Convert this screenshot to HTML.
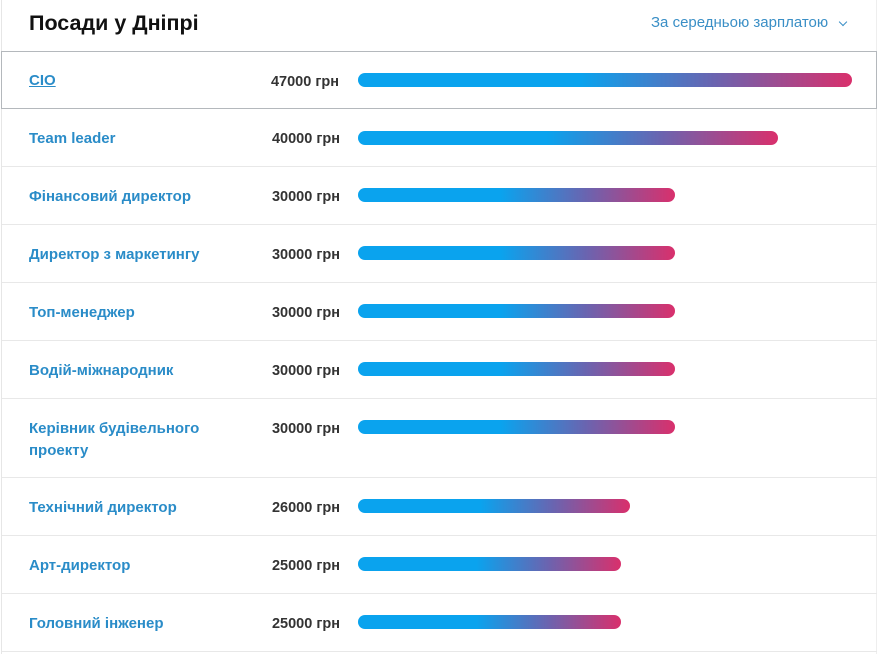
<!DOCTYPE html>
<html><head><meta charset="utf-8"><style>
*{margin:0;padding:0;box-sizing:border-box}
body{width:877px;height:654px;background:#fff;font-family:"Liberation Sans","Noto Sans CJK SC",sans-serif;position:relative;overflow:hidden}
.lb{position:absolute;left:1px;top:0;width:1px;height:654px;background:#e6e6e6}
.rb{position:absolute;right:0;top:0;width:1px;height:654px;background:#eee}
h1{position:absolute;left:29px;top:11px;font-size:21.5px;font-weight:bold;color:#111}
.sort{position:absolute;left:651px;top:14px;font-size:15px;color:#3a8fc6}
.sort:after{content:"";position:absolute;left:189px;top:5px;width:5px;height:5px;border-right:1.5px solid #3a8fc6;border-bottom:1.5px solid #3a8fc6;transform:rotate(45deg)}
.row{position:absolute;left:2px;width:875px;border-bottom:1px solid #e8e8e8}
.row.sel{border:1px solid #b4b8bc;left:1px;width:876px}
.n{position:absolute;left:27px;font-size:15px;font-weight:bold;color:#2a8cc8;line-height:22px}
.sel .n{text-decoration:underline}
.v{position:absolute;right:537px;font-size:14.5px;font-weight:bold;color:#333;white-space:nowrap}
.b{position:absolute;left:356px;height:14px;border-radius:7px;background:linear-gradient(90deg,#0aa3ee 0%,#0aa3ee 45%,#6a64b0 72%,#d9306c 100%)}
</style></head><body>
<div class="lb"></div><div class="rb"></div>
<h1>Посади у Дніпрі</h1>
<div class="sort">За середньою зарплатою</div>

<div class="row sel" style="top:51px;height:58px"><div class="n" style="top:18px">CIO</div><div class="v" style="top:22px">47000 грн</div><div class="b" style="top:21px;width:494px"></div></div>
<div class="row" style="top:109px;height:58px"><div class="n" style="top:19px">Team leader</div><div class="v" style="top:22px">40000 грн</div><div class="b" style="top:22px;width:420px"></div></div>
<div class="row" style="top:167px;height:58px"><div class="n" style="top:19px">Фінансовий директор</div><div class="v" style="top:22px">30000 грн</div><div class="b" style="top:21px;width:317px"></div></div>
<div class="row" style="top:225px;height:58px"><div class="n" style="top:19px">Директор з маркетингу</div><div class="v" style="top:22px">30000 грн</div><div class="b" style="top:21px;width:317px"></div></div>
<div class="row" style="top:283px;height:58px"><div class="n" style="top:19px">Топ-менеджер</div><div class="v" style="top:22px">30000 грн</div><div class="b" style="top:21px;width:317px"></div></div>
<div class="row" style="top:341px;height:58px"><div class="n" style="top:19px">Водій-міжнародник</div><div class="v" style="top:22px">30000 грн</div><div class="b" style="top:21px;width:317px"></div></div>
<div class="row" style="top:399px;height:79px"><div class="n" style="top:19px">Керівник будівельного<br>проекту</div><div class="v" style="top:22px">30000 грн</div><div class="b" style="top:21px;width:317px"></div></div>
<div class="row" style="top:478px;height:58px"><div class="n" style="top:19px">Технічний директор</div><div class="v" style="top:22px">26000 грн</div><div class="b" style="top:21px;width:272px"></div></div>
<div class="row" style="top:536px;height:58px"><div class="n" style="top:19px">Арт-директор</div><div class="v" style="top:22px">25000 грн</div><div class="b" style="top:21px;width:263px"></div></div>
<div class="row" style="top:594px;height:58px"><div class="n" style="top:19px">Головний інженер</div><div class="v" style="top:22px">25000 грн</div><div class="b" style="top:21px;width:263px"></div></div>
</body></html>
